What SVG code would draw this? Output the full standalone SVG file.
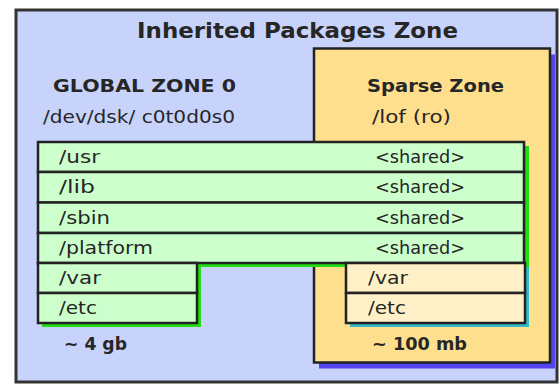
<svg xmlns="http://www.w3.org/2000/svg" width="560" height="386" viewBox="0 0 560 386">
<style>
text{font-family:"DejaVu Sans","Liberation Sans",sans-serif;fill:#262626}
.b{font-weight:bold}
.t{font-size:22px}
.h{font-size:18.5px}
.r{font-size:18px}
.frame{stroke:#222;stroke-width:2.5}
.row{fill:#ccffcc;stroke:#222;stroke-width:2.5}
.cream{fill:#fff0c8;stroke:#222;stroke-width:2.5}
</style>
<g id="inherited-zone">
<rect x="17" y="11" width="541" height="372" fill="#999" opacity="0.35"/>
<rect x="16" y="10" width="541" height="372" fill="#c8d3fb" stroke="#333" stroke-width="3"/>
<text class="b t" x="137" y="38" textLength="321" lengthAdjust="spacingAndGlyphs">Inherited Packages Zone</text>
</g>
<g id="global-zone-label">
<text class="b h" x="53" y="92" textLength="183" lengthAdjust="spacingAndGlyphs">GLOBAL ZONE 0</text>
<text class="r" x="43" y="123" textLength="192" lengthAdjust="spacingAndGlyphs">/dev/dsk/ c0t0d0s0</text>
<text class="b r" x="64" y="350" textLength="63" lengthAdjust="spacingAndGlyphs">~ 4 gb</text>
</g>
<g id="sparse-zone">
<rect x="319" y="54.5" width="236" height="314" fill="#5544ee"/>
<rect class="frame" x="314" y="48.5" width="236" height="314" fill="#fddf8d"/>
<text class="b h" x="367" y="92" textLength="137" lengthAdjust="spacingAndGlyphs">Sparse Zone</text>
<text class="r" x="372" y="123" textLength="79" lengthAdjust="spacingAndGlyphs">/lof (ro)</text>
<text class="b r" x="372" y="350" textLength="95" lengthAdjust="spacingAndGlyphs">~ 100 mb</text>
</g>
<g id="shadows">
<polygon points="42,146 529,146 529,267 201,267 201,327 42,327" fill="#22dd11"/>
<rect x="350" y="267" width="179" height="60" fill="#33bbcc"/>
</g>
<g id="row-usr">
<rect class="row" x="38" y="142" width="486" height="30"/>
<text class="r" x="59" y="163" textLength="41" lengthAdjust="spacingAndGlyphs">/usr</text>
<text class="r" x="375" y="163" textLength="90" lengthAdjust="spacingAndGlyphs">&lt;shared&gt;</text>
</g>
<g id="row-lib">
<rect class="row" x="38" y="172" width="486" height="30.5"/>
<text class="r" x="59" y="193" textLength="36" lengthAdjust="spacingAndGlyphs">/lib</text>
<text class="r" x="375" y="193" textLength="90" lengthAdjust="spacingAndGlyphs">&lt;shared&gt;</text>
</g>
<g id="row-sbin">
<rect class="row" x="38" y="202.5" width="486" height="30.5"/>
<text class="r" x="59" y="224" textLength="51" lengthAdjust="spacingAndGlyphs">/sbin</text>
<text class="r" x="375" y="224" textLength="90" lengthAdjust="spacingAndGlyphs">&lt;shared&gt;</text>
</g>
<g id="row-platform">
<rect class="row" x="38" y="233" width="486" height="30"/>
<text class="r" x="59" y="254" textLength="94" lengthAdjust="spacingAndGlyphs">/platform</text>
<text class="r" x="375" y="254" textLength="90" lengthAdjust="spacingAndGlyphs">&lt;shared&gt;</text>
</g>
<g id="global-var">
<rect class="row" x="38" y="263" width="159" height="30"/>
<text class="r" x="59" y="284" textLength="42" lengthAdjust="spacingAndGlyphs">/var</text>
</g>
<g id="global-etc">
<rect class="row" x="38" y="293" width="159" height="30"/>
<text class="r" x="59" y="314" textLength="38" lengthAdjust="spacingAndGlyphs">/etc</text>
</g>
<g id="sparse-var">
<rect class="cream" x="346" y="263" width="179" height="30"/>
<text class="r" x="368" y="284" textLength="40" lengthAdjust="spacingAndGlyphs">/var</text>
</g>
<g id="sparse-etc">
<rect class="cream" x="346" y="293" width="179" height="30"/>
<text class="r" x="368" y="314" textLength="38" lengthAdjust="spacingAndGlyphs">/etc</text>
</g>
<g id="connectors"/>
</svg>
